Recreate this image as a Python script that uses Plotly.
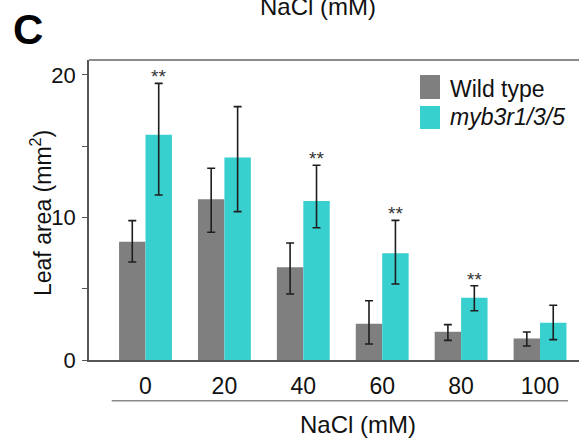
import plotly.graph_objects as go

categories = ["0", "20", "40", "60", "80", "100"]
wt_mean = [8.3, 11.28, 6.5, 2.55, 1.98, 1.51]
wt_err_up = [1.48, 2.17, 1.71, 1.61, 0.50, 0.45]
wt_err_down = [1.42, 2.32, 1.87, 1.43, 0.60, 0.53]
mut_mean = [15.81, 14.2, 11.16, 7.49, 4.36, 2.62]
mut_err_up = [3.6, 3.58, 2.5, 2.31, 0.85, 1.22]
mut_err_down = [4.23, 3.79, 1.88, 2.16, 0.90, 1.19]
significant = [True, False, True, True, True, False]
series_names = ["Wild type", "myb3r1/3/5"]

GREY = "#7f7f7f"
CYAN = "#38cfcf"
FONT = "Liberation Sans, Arial, sans-serif"
ERR = "#1e1e1e"

fig = go.Figure()
fig.add_trace(go.Bar(
    x=categories, y=wt_mean, name=series_names[0],
    marker=dict(color=GREY, line=dict(width=0)),
    error_y=dict(type="data", symmetric=False, array=wt_err_up, arrayminus=wt_err_down,
                 color=ERR, thickness=1.6, width=4),
))
fig.add_trace(go.Bar(
    x=categories, y=mut_mean, name=series_names[1],
    marker=dict(color=CYAN, line=dict(width=0)),
    error_y=dict(type="data", symmetric=False, array=mut_err_up, arrayminus=mut_err_down,
                 color=ERR, thickness=1.6, width=4),
))

annotations = []
for i, sig in enumerate(significant):
    if sig:
        annotations.append(dict(
            x=i + 0.1675, y=mut_mean[i] + mut_err_up[i], xref="x", yref="y",
            text="**", showarrow=False, yanchor="bottom", yshift=-6,
            font=dict(family=FONT, size=19, color="#333333"),
        ))

def px_x(px):
    return (px - 89) / 490.0

def px_y(py):
    return (360 - py) / 300.0

# y axis title
annotations.append(dict(
    x=px_x(41), y=px_y(213), xref="paper", yref="paper", text="Leaf area (mm<sup>2</sup>)",
    textangle=-90, showarrow=False, xanchor="center", yanchor="middle",
    font=dict(family=FONT, size=23, color="#111111"),
))
# x axis title
annotations.append(dict(
    x=px_x(358), y=px_y(424), xref="paper", yref="paper", text="NaCl (mM)",
    showarrow=False, xanchor="center", yanchor="middle",
    font=dict(family=FONT, size=24, color="#111111"),
))
# cut-off title from panel above
annotations.append(dict(
    x=px_x(318), y=px_y(6), xref="paper", yref="paper", text="NaCl (mM)",
    showarrow=False, xanchor="center", yanchor="middle",
    font=dict(family=FONT, size=24, color="#111111"),
))
# panel label
annotations.append(dict(
    x=px_x(27.5), y=px_y(30), xref="paper", yref="paper", text="<b>C</b>",
    showarrow=False, xanchor="center", yanchor="middle",
    font=dict(family=FONT, size=42, color="#000000"),
))
# legend labels
annotations.append(dict(
    x=px_x(448), y=px_y(88.5), xref="paper", yref="paper", text=series_names[0],
    showarrow=False, xanchor="left", yanchor="middle",
    font=dict(family=FONT, size=23, color="#111111"),
))
annotations.append(dict(
    x=px_x(448), y=px_y(117), xref="paper", yref="paper", text="<i>" + series_names[1] + "</i>",
    showarrow=False, xanchor="left", yanchor="middle",
    font=dict(family=FONT, size=23, color="#111111"),
))

shapes = [
    dict(type="rect", xref="paper", yref="paper", x0=px_x(420), x1=px_x(440),
         y0=px_y(99), y1=px_y(75), fillcolor=GREY, line=dict(width=0)),
    dict(type="rect", xref="paper", yref="paper", x0=px_x(420), x1=px_x(440),
         y0=px_y(129), y1=px_y(106), fillcolor=CYAN, line=dict(width=0)),
    dict(type="line", xref="paper", yref="paper", x0=0, x1=1, y0=1, y1=1,
         line=dict(color="#666666", width=1.5)),
    dict(type="line", xref="paper", yref="paper", x0=px_x(111.7), x1=px_x(568),
         y0=px_y(400.7), y1=px_y(400.7), line=dict(color="#8a8a8a", width=1.6)),
]

fig.update_layout(
    width=579, height=443,
    margin=dict(l=89, r=0, t=60, b=83),
    paper_bgcolor="white", plot_bgcolor="white",
    barmode="group", bargap=0.33, bargroupgap=0,
    showlegend=False, hovermode=False,
    font=dict(family=FONT, color="#111111"),
    annotations=annotations, shapes=shapes,
    xaxis=dict(
        type="category", range=[-0.716, 5.494],
        showline=True, linecolor="#555555", linewidth=1.6,
        ticks="", showgrid=False, zeroline=False,
        tickfont=dict(family=FONT, size=23, color="#111111"),
        ticklabelstandoff=5,
    ),
    yaxis=dict(
        range=[0, 21.05], tick0=0, dtick=10,
        showline=True, linecolor="#555555", linewidth=1.6,
        ticks="outside", ticklen=5, tickcolor="#555555", tickwidth=1.3,
        minor=dict(tick0=0, dtick=5, ticks="outside", ticklen=5,
                   tickcolor="#555555", tickwidth=1.3),
        showgrid=False, zeroline=False,
        tickfont=dict(family=FONT, size=22, color="#111111"),
        ticklabelstandoff=2,
    ),
)

fig.write_html("out.html", config={"displayModeBar": False},
               post_script="document.body.style.margin='0px';document.body.style.padding='0px';")
